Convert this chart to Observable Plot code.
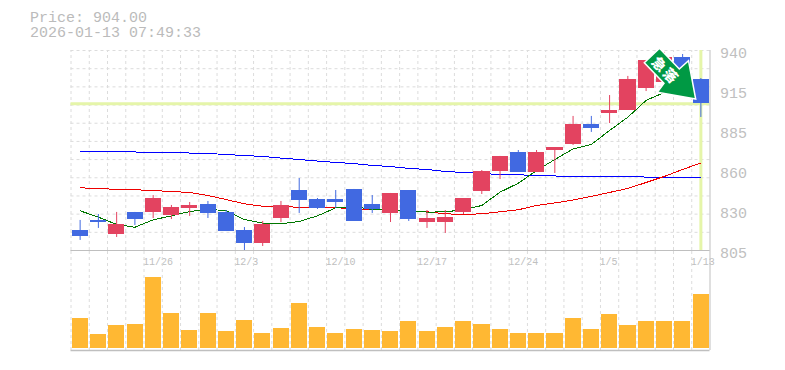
<!DOCTYPE html>
<html><head><meta charset="utf-8">
<script src="https://cdn.jsdelivr.net/npm/d3@7"></script>
<script src="https://cdn.jsdelivr.net/npm/@observablehq/plot@0.6"></script>
<style>
html,body{margin:0;padding:0;background:#fff;width:785px;height:370px;overflow:hidden}
#head{position:absolute;left:30px;top:11px;font:15px/15px "Liberation Mono",monospace;color:#bbb;white-space:pre}
#price,#vol,#badge{position:absolute;left:0}
#price{top:0}#vol{top:250px}#badge{top:0}
svg{background:transparent!important;overflow:visible}
</style></head><body>
<div id="head">Price: 904.00
2026-01-13 07:49:33</div>
<div id="price"></div><div id="vol"></div>
<svg id="badge" width="785" height="370" style="pointer-events:none">
<polygon points="659.5,48.3 644.3,62.7 664,83.3 657.3,92.3 695.7,99 688.5,60.7 679.3,69" fill="#009944" stroke="#fff" stroke-width="1.5" stroke-linejoin="miter"/>
<text transform="translate(666,70) rotate(45)" text-anchor="middle" dominant-baseline="central" font-family="Noto Sans CJK JP" font-size="14" font-weight="900" letter-spacing="2" fill="#fff">急落</text>
</svg>
<script>
const opens=[818.5,825.3,815.8,830.7,830.7,828.6,833.4,836.1,830.7,818.5,809.7,826.6,845.5,839.4,839.4,846.2,836.1,830,845.5,823.9,823.9,830.7,844.8,858.3,871.2,857.7,872.5,876.6,890.1,897.5,899.5,914.4,918.4,935.3,920.4];
const highs=[825.3,829.3,830.7,830.7,842.1,835.4,837.4,838.1,832,820.5,824.6,838.1,853.6,840.1,845.5,846.2,842.1,843.5,845.5,832,832,840.1,859,868.5,872.5,872.5,874.5,895.5,895.5,909.6,922.5,933.3,938.7,937.3,921.1];
const lows=[811.8,819.9,813.8,821.9,826.6,825.9,828,826.6,817.8,805,807.7,823.9,830,832.7,833.4,824.6,830,823.9,824.6,819.9,816.5,829.3,842.8,852.9,857.7,857.7,857,875.9,884.7,890.7,899.5,912.3,915.7,914.4,894.8];
const closes=[814.5,823.7,822.6,825.9,840.1,834,835.4,830,817.8,809.7,822.6,835.4,838.8,833.4,837.4,824.6,832.7,843.5,825.9,826.6,827.3,840.1,858.3,868.5,857.7,871.2,874.5,890.1,887.4,899.5,920.4,933.3,935.3,919.8,904];
const volumes=[30,13.7,22.7,23.7,70.7,34.7,17.7,34.7,16.7,27.7,14.7,19.7,44.7,20.7,14.7,18.7,17.7,17,27,17,21,27,24,19,15,15,15,30,19,34,23,27,27,27,54];
const maShort=[831.8,827.5,822.6,820.7,825.7,828.4,831.3,832.7,832,825.9,823.4,823,824.6,828.4,833.8,834.7,832.7,832.3,832,830.9,831.1,832.5,835.4,844.4,850.4,859,866.4,873.6,876.6,886,895,906.3,911.7,916.4,916.4];
const maMid=[847.3,846.9,846.2,846,845.5,844.8,844.2,842.1,839.4,836.5,834.9,834.7,834.2,834,833.8,833.4,832.5,832.5,832,831.1,829.8,829.3,829.8,831.1,832.5,835.4,837.1,839.1,841.5,844.2,846.9,850.9,855,859.7,864.1];
const maLong=[871.5,871.5,871.5,871.5,871.2,871.2,870.8,870.5,869.8,869.1,868.5,867.4,866.4,865.4,864.4,863.7,862.4,861.7,860.4,859.7,858.3,857.7,857,856.3,856.1,855.6,855.3,855,855,855,854.7,854.6,854.3,854.3,854.3];
const priceNow=904;
const dateLabels=["11/26","12/3","12/10","12/17","12/24","1/5","1/13"];
const dateIndex=[4,9,14,19,24,29,34];
const yTickValues=[940,913,886,859,832,805];
const yTickLabels=["940","915","885","860","830","805"];

const gridC="#dcdcdc", axisC="#bfbfbf", textC="#c0c0c0", upC="#E34360", downC="#4169E1", cross="#E5F5A9";
const idx=d3.range(opens.length);
const candles=idx.map(i=>({i,o:opens[i],h:highs[i],l:lows[i],c:closes[i],up:closes[i]>=opens[i]}));
const xDom=[-0.5,34.5], gridX=d3.range(0,35).map(i=>i-0.5);
const gridY=d3.range(0,12).map(k=>805+k*135/11);
const xOpt={type:"linear",domain:xDom,axis:null};
const W=785, mL=70.5, mR=785-709.5;
const lineOpt={x:i=>i,curve:"linear",strokeWidth:1,shapeRendering:"crispEdges"};

const price=Plot.plot({width:W,height:270,marginLeft:mL,marginRight:mR,marginTop:50,marginBottom:20,
 x:xOpt,
 y:{type:"linear",domain:[805,940],axis:null},
 marks:[
  Plot.ruleX(gridX,{y1:805,y2:940,stroke:gridC,strokeDasharray:"3,3",strokeWidth:1}),
  Plot.ruleY(gridY,{stroke:gridC,strokeDasharray:"3,3",strokeWidth:1}),
  Plot.ruleY([805],{stroke:axisC,strokeWidth:1}),
  Plot.ruleY([priceNow],{stroke:cross,strokeWidth:3}),
  Plot.ruleX([34],{y1:805,y2:940,stroke:cross,strokeWidth:3}),
  Plot.line(idx,{...lineOpt,y:i=>maLong[i],stroke:"#0000ff"}),
  Plot.line(idx,{...lineOpt,y:i=>maMid[i],stroke:"#ee0000"}),
  Plot.line(idx,{...lineOpt,y:i=>maShort[i],stroke:"#007700"}),
  Plot.ruleX(candles,{x:"i",y1:"l",y2:"h",stroke:d=>d.up?upC:downC,strokeWidth:1}),
  Plot.rectY(candles,{x1:d=>d.i-0.43,x2:d=>d.i+0.45,y1:"o",y2:"c",fill:d=>d.up?upC:downC,shapeRendering:"crispEdges"}),
  Plot.ruleX([34.5],{y1:805,y2:940,stroke:axisC,strokeWidth:1}),
  Plot.text(yTickValues,{x:34.5,y:d=>d,text:(d,i)=>yTickLabels[i],textAnchor:"start",dx:10,dy:3,fontSize:15,fontFamily:"Liberation Mono",fill:textC}),
  Plot.text(dateIndex,{x:d=>d-0.5,y:805,text:(d,i)=>dateLabels[i],textAnchor:"start",dx:-1,dy:11,fontSize:10,fontFamily:"Liberation Mono",fill:textC})
 ]});
document.getElementById("price").append(price);

const vol=Plot.plot({width:W,height:120,marginLeft:mL,marginRight:mR,marginTop:0,marginBottom:22,
 x:xOpt,
 y:{type:"linear",domain:[0,98],axis:null},
 marks:[
  Plot.ruleX(gridX,{y1:-2,y2:98,stroke:gridC,strokeDasharray:"3,3",strokeWidth:1}),
  Plot.rectY(idx,{x1:i=>i-0.43,x2:i=>i+0.45,y1:0,y2:i=>volumes[i],fill:"#FFB833",shapeRendering:"crispEdges"}),
  Plot.ruleX([34.5],{y1:-2,y2:98,stroke:axisC,strokeWidth:1}),
  Plot.ruleY([-2],{stroke:axisC,strokeWidth:1.5})
 ]});
document.getElementById("vol").append(vol);
</script>
</body></html>
